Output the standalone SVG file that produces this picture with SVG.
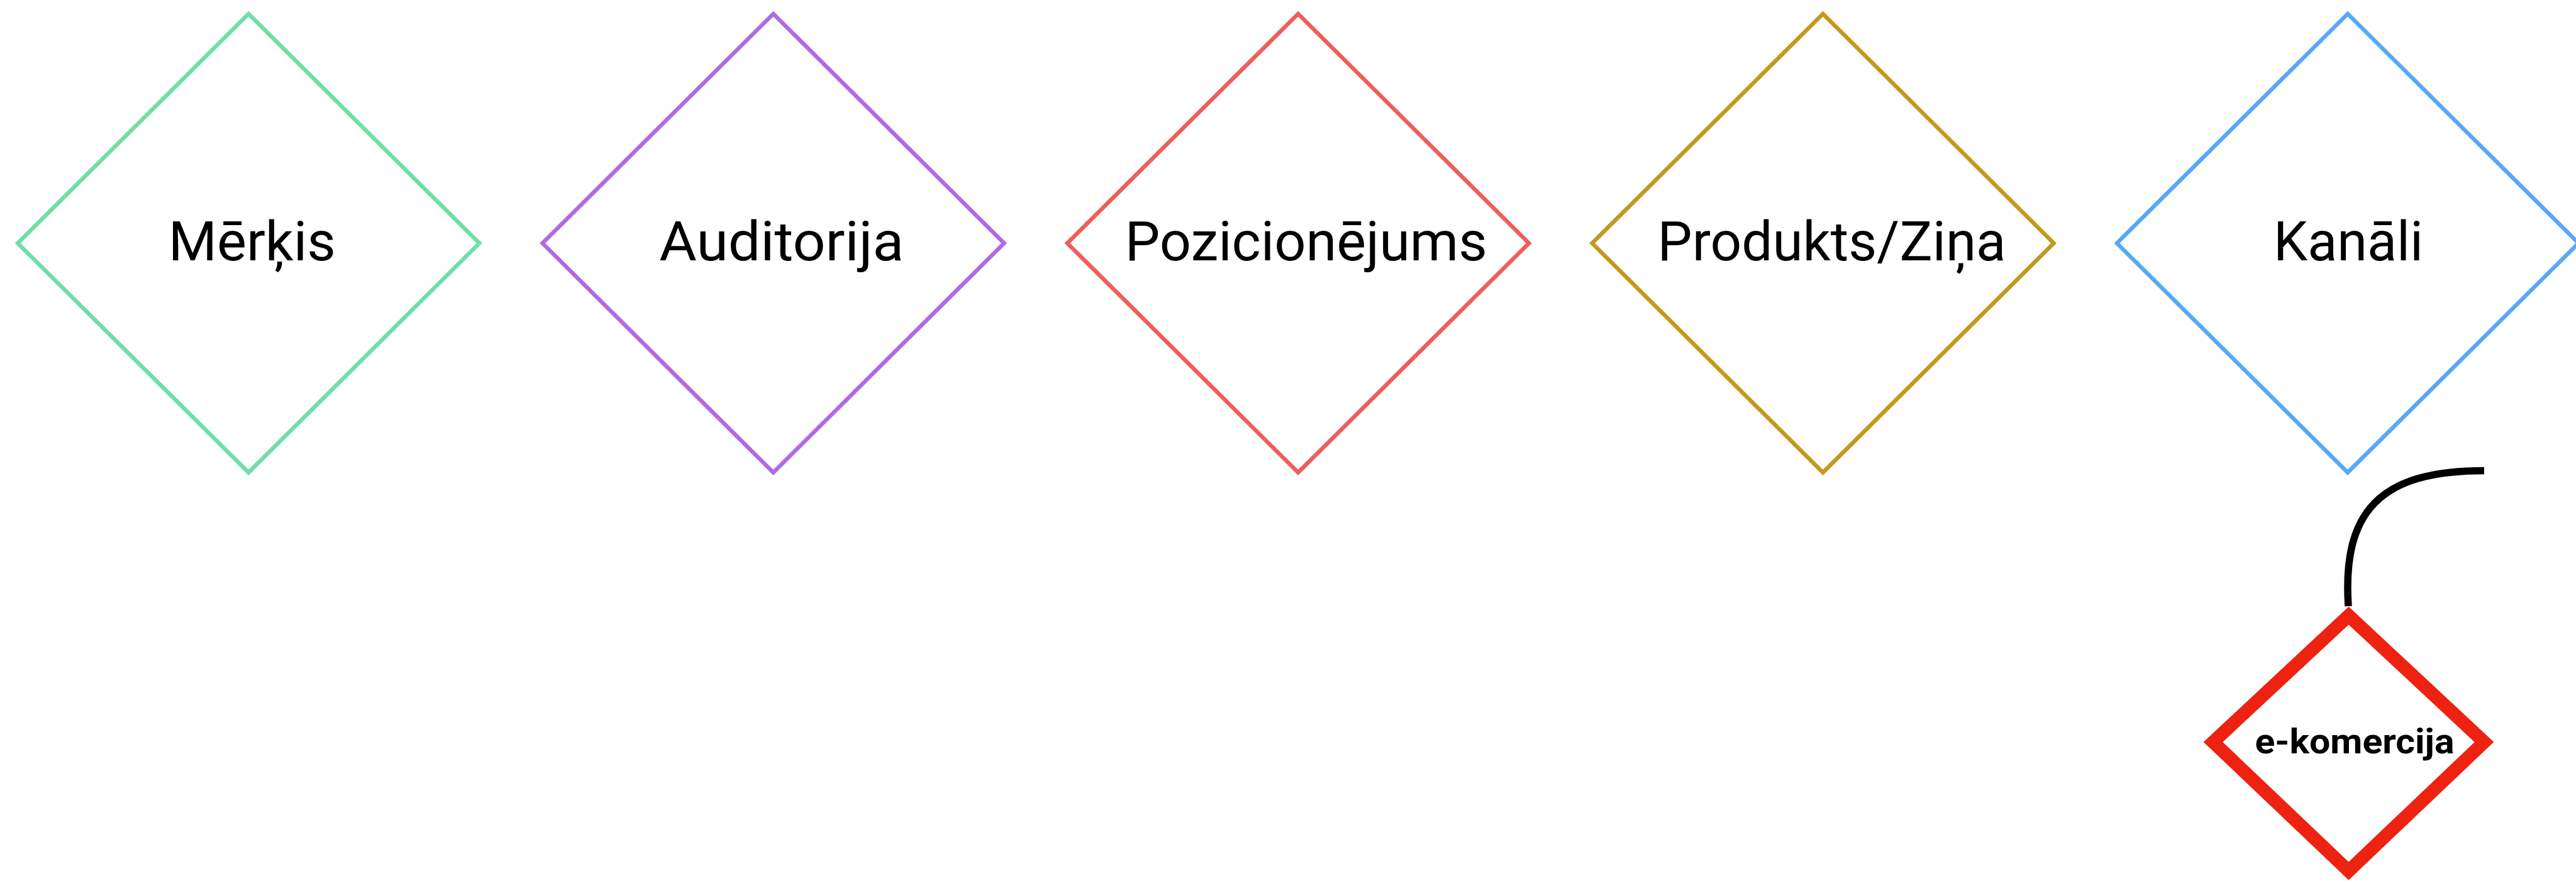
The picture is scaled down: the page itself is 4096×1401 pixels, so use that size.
<svg xmlns="http://www.w3.org/2000/svg" width="4096" height="1401" viewBox="0 0 4096 1401">
  <style>
    .stage { fill: #ffffff; stroke-width: 6.5; stroke-linejoin: miter; stroke-miterlimit: 10; }
    .label { font-family: Roboto, "Liberation Sans", sans-serif; font-size: 88px; fill: #000000; text-anchor: middle; }
    .sub { fill: #ffffff; stroke: #ee2211; stroke-width: 21; stroke-linejoin: miter; stroke-miterlimit: 10; }
    .sublabel { font-family: Roboto, "Liberation Sans", sans-serif; font-size: 56px; font-weight: 700; fill: #000000; text-anchor: middle; }
    .link { fill: none; stroke: #000000; stroke-width: 11.5; stroke-linecap: butt; }
  </style>
  <rect width="4096" height="1401" fill="#ffffff"/>

  <!-- top row: planning stages -->
  <g id="merkis">
    <polygon class="stage" stroke="#6edfa8" points="395.2,22 762.2,386.7 395.2,751.4 28.2,386.7"/>
    <text class="label" x="400.8" y="414" textLength="266" lengthAdjust="spacingAndGlyphs">Mērķis</text>
  </g>
  <g id="auditorija">
    <polygon class="stage" stroke="#b06be3" points="1229.6,22 1596.6,386.7 1229.6,751.4 862.6,386.7"/>
    <text class="label" x="1242.8" y="414" textLength="389" lengthAdjust="spacingAndGlyphs">Auditorija</text>
  </g>
  <g id="pozicionejums">
    <polygon class="stage" stroke="#ee5f5a" points="2064.1,22 2431.1,386.7 2064.1,751.4 1697.1,386.7"/>
    <text class="label" x="2076.7" y="414" textLength="576" lengthAdjust="spacingAndGlyphs">Pozicionējums</text>
  </g>
  <g id="produkts-zina">
    <polygon class="stage" stroke="#c4991e" points="2898.6,22 3265.6,386.7 2898.6,751.4 2531.6,386.7"/>
    <text class="label" x="2912.6" y="414" textLength="554" lengthAdjust="spacingAndGlyphs">Produkts/Ziņa</text>
  </g>
  <g id="kanali">
    <polygon class="stage" stroke="#57a9f7" points="3733,22 4100,386.7 3733,751.4 3366,386.7"/>
    <text class="label" x="3734" y="414" textLength="238" lengthAdjust="spacingAndGlyphs">Kanāli</text>
  </g>

  <!-- connectors -->
  <g id="connectors">
    <path class="link" d="M3734,964 C3724.3,814.5 3782.4,748.4 3950,748.4"/>
  </g>

  <!-- channel detail -->
  <g id="e-komercija">
    <polygon class="sub" points="3734.5,979 3950,1180 3734.5,1385 3519,1180"/>
    <text class="sublabel" x="3744" y="1197.6" textLength="317" lengthAdjust="spacingAndGlyphs">e-komercija</text>
  </g>
</svg>
